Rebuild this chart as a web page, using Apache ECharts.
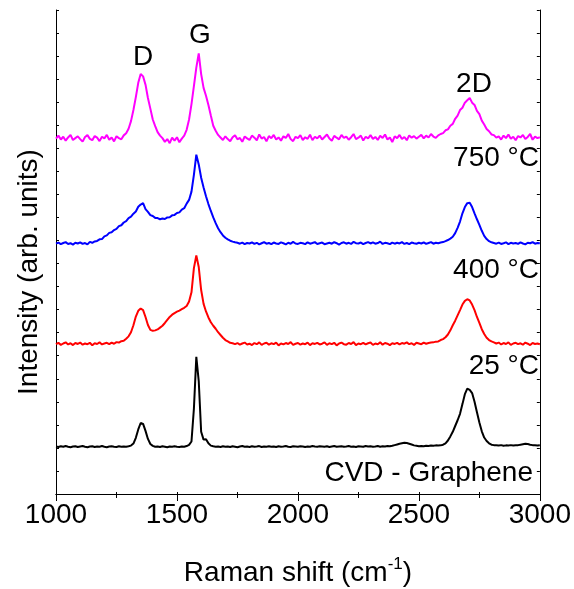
<!DOCTYPE html>
<html>
<head>
<meta charset="utf-8">
<script src="https://cdn.jsdelivr.net/npm/echarts@6/dist/echarts.min.js"></script>
<style>
	html, body { margin: 0; padding: 0; background: #fff; }
	#raman { width: 574px; height: 589px; }
</style>
</head>
<body>
<div id="raman"></div>
<script>
	// Raman shift grid (cm-1), one point every 10 cm-1
	const shifts = [
		1000, 1010, 1020, 1030, 1040, 1050, 1060, 1070, 1080, 1090,
		1100, 1110, 1120, 1130, 1140, 1150, 1160, 1170, 1180, 1190,
		1200, 1210, 1220, 1230, 1240, 1250, 1260, 1270, 1280, 1290,
		1300, 1310, 1320, 1330, 1340, 1350, 1360, 1370, 1380, 1390,
		1400, 1410, 1420, 1430, 1440, 1450, 1460, 1470, 1480, 1490,
		1500, 1510, 1520, 1530, 1540, 1550, 1560, 1570, 1580, 1590,
		1600, 1610, 1620, 1630, 1640, 1650, 1660, 1670, 1680, 1690,
		1700, 1710, 1720, 1730, 1740, 1750, 1760, 1770, 1780, 1790,
		1800, 1810, 1820, 1830, 1840, 1850, 1860, 1870, 1880, 1890,
		1900, 1910, 1920, 1930, 1940, 1950, 1960, 1970, 1980, 1990,
		2000, 2010, 2020, 2030, 2040, 2050, 2060, 2070, 2080, 2090,
		2100, 2110, 2120, 2130, 2140, 2150, 2160, 2170, 2180, 2190,
		2200, 2210, 2220, 2230, 2240, 2250, 2260, 2270, 2280, 2290,
		2300, 2310, 2320, 2330, 2340, 2350, 2360, 2370, 2380, 2390,
		2400, 2410, 2420, 2430, 2440, 2450, 2460, 2470, 2480, 2490,
		2500, 2510, 2520, 2530, 2540, 2550, 2560, 2570, 2580, 2590,
		2600, 2610, 2620, 2630, 2640, 2650, 2660, 2670, 2680, 2690,
		2700, 2710, 2720, 2730, 2740, 2750, 2760, 2770, 2780, 2790,
		2800, 2810, 2820, 2830, 2840, 2850, 2860, 2870, 2880, 2890,
		2900, 2910, 2920, 2930, 2940, 2950, 2960, 2970, 2980, 2990,
		3000
	];

	// CVD - Graphene (as grown, 25 °C)
	const cvd25 = [
		2.06, 2.04, 2.07, 2.05, 2.08, 2.05, 2.03, 2.06, 2.07, 2.04,
		2.06, 2.08, 2.05, 2.03, 2.06, 2.07, 2.04, 2.06, 2.05, 2.08,
		2.05, 2.03, 2.06, 2.07, 2.05, 2.04, 2.07, 2.05, 2.06, 2.05,
		2.07, 2.10, 2.19, 2.44, 2.80, 3.08, 3.04, 2.74, 2.39, 2.17,
		2.09, 2.05, 2.06, 2.04, 2.07, 2.05, 2.03, 2.06, 2.05, 2.07,
		2.05, 2.04, 2.06, 2.05, 2.08, 2.13, 2.28, 3.70, 5.95, 4.90,
		2.70, 2.36, 2.38, 2.20, 2.10, 2.07, 2.05, 2.06, 2.04, 2.07,
		2.05, 2.06, 2.04, 2.07, 2.05, 2.03, 2.06, 2.08, 2.05, 2.06,
		2.04, 2.07, 2.05, 2.06, 2.08, 2.04, 2.06, 2.05, 2.07, 2.05,
		2.06, 2.04, 2.07, 2.05, 2.06, 2.08, 2.05, 2.04, 2.07, 2.06,
		2.05, 2.07, 2.06, 2.04, 2.06, 2.05, 2.08, 2.06, 2.05, 2.07,
		2.06, 2.05, 2.07, 2.04, 2.06, 2.08, 2.05, 2.06, 2.07, 2.05,
		2.06, 2.08, 2.05, 2.06, 2.04, 2.07, 2.06, 2.05, 2.08, 2.06,
		2.07, 2.05, 2.06, 2.08, 2.05, 2.07, 2.06, 2.08, 2.07, 2.09,
		2.12, 2.15, 2.18, 2.20, 2.22, 2.21, 2.18, 2.15, 2.11, 2.09,
		2.07, 2.08, 2.07, 2.09, 2.08, 2.10, 2.09, 2.11, 2.10, 2.11,
		2.14, 2.20, 2.32, 2.50, 2.70, 2.95, 3.20, 3.48, 3.90, 4.33,
		4.57, 4.52, 4.38, 4.00, 3.55, 3.10, 2.72, 2.45, 2.30, 2.20,
		2.14, 2.12, 2.11, 2.10, 2.12, 2.09, 2.11, 2.10, 2.12, 2.10,
		2.11, 2.12, 2.14, 2.16, 2.18, 2.17, 2.14, 2.12, 2.11, 2.10,
		2.11
	];

	// 400 °C
	const t400 = [
		6.50, 6.56, 6.47, 6.53, 6.58, 6.49, 6.54, 6.46, 6.55, 6.51,
		6.57, 6.48, 6.53, 6.50, 6.56, 6.45, 6.54, 6.51, 6.58, 6.49,
		6.53, 6.56, 6.50, 6.57, 6.52, 6.59, 6.57, 6.63, 6.65, 6.74,
		6.84, 7.02, 7.32, 7.70, 7.95, 8.05, 7.98, 7.68, 7.33, 7.12,
		7.08, 7.10, 7.14, 7.22, 7.30, 7.42, 7.55, 7.68, 7.78, 7.85,
		7.91, 7.96, 8.02, 8.08, 8.16, 8.35, 8.75, 9.80, 10.35, 9.85,
		8.85, 8.25, 7.92, 7.66, 7.45, 7.30, 7.17, 7.02, 6.90, 6.78,
		6.68, 6.62, 6.56, 6.54, 6.50, 6.55, 6.48, 6.53, 6.57, 6.49,
		6.52, 6.46, 6.55, 6.50, 6.58, 6.47, 6.53, 6.56, 6.48, 6.54,
		6.50, 6.57, 6.45, 6.53, 6.49, 6.55, 6.51, 6.59, 6.47, 6.52,
		6.55, 6.48, 6.53, 6.50, 6.57, 6.46, 6.54, 6.51, 6.56, 6.49,
		6.52, 6.58, 6.47, 6.54, 6.50, 6.56, 6.45, 6.53, 6.57, 6.50,
		6.48, 6.55, 6.51, 6.59, 6.46, 6.53, 6.50, 6.56, 6.49, 6.54,
		6.57, 6.47, 6.53, 6.50, 6.58, 6.48, 6.55, 6.52, 6.46, 6.54,
		6.51, 6.56, 6.49, 6.55, 6.52, 6.58, 6.50, 6.54, 6.47, 6.56,
		6.53, 6.50, 6.57, 6.52, 6.55, 6.57, 6.58, 6.61, 6.62, 6.68,
		6.72, 6.80, 6.92, 7.10, 7.32, 7.52, 7.75, 7.98, 8.22, 8.38,
		8.45, 8.40, 8.22, 7.98, 7.68, 7.42, 7.15, 6.94, 6.78, 6.68,
		6.62, 6.58, 6.53, 6.57, 6.49, 6.55, 6.51, 6.58, 6.47, 6.53,
		6.56, 6.50, 6.54, 6.48, 6.57, 6.52, 6.46, 6.55, 6.51, 6.53,
		6.50
	];

	// 750 °C
	const t750 = [
		10.86, 10.91, 10.84, 10.89, 10.93, 10.85, 10.88, 10.82, 10.90, 10.87,
		10.92, 10.85, 10.89, 10.83, 10.94, 10.90, 10.96, 10.98, 11.05, 11.06,
		11.18, 11.22, 11.33, 11.36, 11.45, 11.50, 11.62, 11.66, 11.78, 11.84,
		11.97, 12.03, 12.16, 12.26, 12.46, 12.56, 12.62, 12.36, 12.24, 12.10,
		12.06, 11.98, 11.97, 11.92, 11.95, 11.93, 12.00, 12.01, 12.09, 12.11,
		12.19, 12.22, 12.34, 12.40, 12.60, 12.76, 13.12, 13.85, 14.72, 14.30,
		13.72, 13.30, 12.92, 12.58, 12.28, 12.00, 11.75, 11.53, 11.36, 11.22,
		11.12, 11.05, 10.99, 10.95, 10.92, 10.90, 10.86, 10.91, 10.84, 10.89,
		10.87, 10.92, 10.85, 10.90, 10.83, 10.88, 10.93, 10.86, 10.89, 10.84,
		10.91, 10.87, 10.85, 10.92, 10.88, 10.83, 10.90, 10.86, 10.94, 10.87,
		10.85, 10.90, 10.88, 10.84, 10.92, 10.86, 10.89, 10.93, 10.85, 10.88,
		10.91, 10.84, 10.87, 10.90, 10.86, 10.93, 10.88, 10.82, 10.89, 10.92,
		10.86, 10.90, 10.85, 10.94, 10.88, 10.87, 10.91, 10.84, 10.89, 10.93,
		10.87, 10.92, 10.86, 10.89, 10.95, 10.85, 10.90, 10.88, 10.84, 10.91,
		10.86, 10.90, 10.87, 10.93, 10.85, 10.89, 10.84, 10.91, 10.88, 10.86,
		10.90, 10.87, 10.92, 10.85, 10.89, 10.93, 10.86, 10.90, 10.88, 10.91,
		10.93, 10.97, 11.02, 11.08, 11.16, 11.32, 11.55, 11.82, 12.18, 12.45,
		12.62, 12.64, 12.45, 12.18, 11.92, 11.68, 11.42, 11.20, 11.06, 10.97,
		10.92, 10.89, 10.86, 10.91, 10.85, 10.88, 10.92, 10.84, 10.90, 10.87,
		10.89, 10.85, 10.92, 10.87, 10.83, 10.90, 10.88, 10.93, 10.86, 10.89,
		10.88
	];

	// top trace (magenta)
	const tTop = [
		15.42, 15.55, 15.38, 15.50, 15.33, 15.47, 15.58, 15.36, 15.44, 15.52,
		15.40, 15.29, 15.49, 15.57, 15.41, 15.35, 15.53, 15.46, 15.31, 15.50,
		15.43, 15.58, 15.37, 15.47, 15.30, 15.52, 15.44, 15.39, 15.56, 15.65,
		15.85, 16.18, 16.66, 17.22, 17.84, 18.22, 18.12, 17.76, 17.18, 16.72,
		16.25, 15.96, 15.70, 15.55, 15.44, 15.28, 15.40, 15.22, 15.46, 15.33,
		15.48, 15.26, 15.42, 15.55, 15.80, 16.25, 16.92, 17.70, 18.50, 19.12,
		18.22, 17.62, 17.28, 16.88, 16.42, 15.98, 15.76, 15.58, 15.47, 15.36,
		15.52, 15.40, 15.31, 15.48, 15.57, 15.39, 15.45, 15.28, 15.51, 15.43,
		15.36, 15.55, 15.46, 15.34, 15.60, 15.42, 15.49, 15.30, 15.53, 15.44,
		15.58, 15.38, 15.47, 15.33, 15.52, 15.45, 15.62, 15.40, 15.31, 15.50,
		15.44, 15.57, 15.36, 15.48, 15.41, 15.59, 15.35, 15.50, 15.43, 15.55,
		15.38, 15.49, 15.60, 15.42, 15.33, 15.54, 15.46, 15.39, 15.58, 15.45,
		15.51, 15.37, 15.48, 15.62, 15.40, 15.46, 15.55, 15.34, 15.50, 15.43,
		15.57, 15.41, 15.49, 15.36, 15.54, 15.45, 15.60, 15.38, 15.47, 15.27,
		15.52, 15.44, 15.58, 15.40, 15.49, 15.35, 15.56, 15.46, 15.53, 15.42,
		15.50, 15.58, 15.43, 15.55, 15.47, 15.62, 15.51, 15.45, 15.56, 15.62,
		15.66, 15.78, 15.82, 15.98, 16.06, 16.28, 16.42, 16.66, 16.76, 16.98,
		17.08, 17.18, 16.98, 16.88, 16.62, 16.48, 16.20, 16.03, 15.84, 15.74,
		15.60, 15.57, 15.46, 15.52, 15.38, 15.55, 15.44, 15.60, 15.41, 15.50,
		15.35, 15.53, 15.47, 15.58, 15.40, 15.49, 15.62, 15.37, 15.51, 15.44,
		15.48
	];

	const xTicks = [1000, 1500, 2000, 2500, 3000];

	function pairs(ys) {
		return shifts.map(function(x, i) {
			return [x, ys[i]];
		});
	}

	const FONT = '"Liberation Sans", Arial, sans-serif';

	function lbl(text, x, y, align) {
		return {
			type: 'text',
			x: x,
			y: y,
			z: 100,
			style: {
				text: text,
				fill: '#000',
				fontSize: 28,
				fontFamily: FONT,
				align: align,
				textAlign: align,
				verticalAlign: 'middle',
				textVerticalAlign: 'middle'
			}
		};
	}

	const chart = echarts.init(document.getElementById('raman'));
	const axisLine = { show: true, lineStyle: { color: '#000', width: 1 } };

	const option = {
		animation: false,
		backgroundColor: '#fff',
		grid: { left: 56, right: 34, top: 10, bottom: 95 },
		xAxis: [{
			type: 'value',
			position: 'bottom',
			min: xTicks[0],
			max: xTicks[xTicks.length - 1],
			interval: 500,
			axisLine: axisLine,
			axisTick: { show: true, inside: false, length: 7, lineStyle: { color: '#000' } },
			minorTick: { show: true, splitNumber: 2, length: 4, lineStyle: { color: '#000' } },
			splitLine: { show: false },
			axisLabel: {
				color: '#000', fontSize: 28, fontFamily: FONT, margin: 7,
				formatter: function(v) { return String(v); }
			}
		}, {
			type: 'value',
			position: 'top',
			min: xTicks[0],
			max: xTicks[xTicks.length - 1],
			interval: 500,
			axisLine: axisLine,
			axisTick: { show: true, inside: false, length: 2, lineStyle: { color: '#000' } },
			minorTick: { show: true, splitNumber: 2, length: 2, lineStyle: { color: '#000' } },
			splitLine: { show: false },
			axisLabel: { show: false }
		}],
		yAxis: [{
			type: 'value',
			position: 'left',
			min: 0,
			max: 21,
			interval: 1,
			axisLine: axisLine,
			axisTick: { show: true, inside: true, length: 3, lineStyle: { color: '#000' } },
			splitLine: { show: false },
			axisLabel: { show: false }
		}, {
			type: 'value',
			position: 'right',
			min: 0,
			max: 21,
			interval: 1,
			axisLine: axisLine,
			axisTick: { show: true, inside: true, length: 3, lineStyle: { color: '#000' } },
			splitLine: { show: false },
			axisLabel: { show: false }
		}],
		series: [
			{ name: 'CVD - Graphene', type: 'line', data: pairs(cvd25), showSymbol: false, lineStyle: { color: '#000000', width: 2 } },
			{ name: '400 °C', type: 'line', data: pairs(t400), showSymbol: false, lineStyle: { color: '#ff0000', width: 2 } },
			{ name: '750 °C', type: 'line', data: pairs(t750), showSymbol: false, lineStyle: { color: '#0000ff', width: 2 } },
			{ name: 'top', type: 'line', data: pairs(tTop), showSymbol: false, lineStyle: { color: '#ff00ff', width: 2 } }
		],
		graphic: [
			lbl('D', 143, 57, 'center'),
			lbl('G', 200, 35, 'center'),
			lbl('2D', 474, 84, 'center'),
			lbl('750 °C', 539, 158, 'right'),
			lbl('400 °C', 539, 270, 'right'),
			lbl('25 °C', 539, 366, 'right'),
			lbl('CVD - Graphene', 533, 473, 'right'),
			{
				type: 'text',
				x: 29,
				y: 272,
				rotation: Math.PI / 2,
				style: {
					text: 'Intensity (arb. units)',
					fill: '#000',
					fontSize: 28,
					fontFamily: FONT,
					align: 'center',
					textAlign: 'center',
					verticalAlign: 'middle',
					textVerticalAlign: 'middle'
				}
			},
			{
				type: 'text',
				x: 298,
				y: 573,
				style: {
					text: '{a|Raman shift (cm}{s|-1}{a|)}',
					fill: '#000',
					fontSize: 28,
					fontFamily: FONT,
					align: 'center',
					textAlign: 'center',
					verticalAlign: 'middle',
					textVerticalAlign: 'middle',
					rich: {
						a: { fontSize: 28, fontFamily: FONT, fill: '#000', lineHeight: 34 },
						s: { fontSize: 17, fontFamily: FONT, fill: '#000', lineHeight: 18, verticalAlign: 'top' }
					}
				}
			}
		]
	};

	chart.setOption(option);
</script>
